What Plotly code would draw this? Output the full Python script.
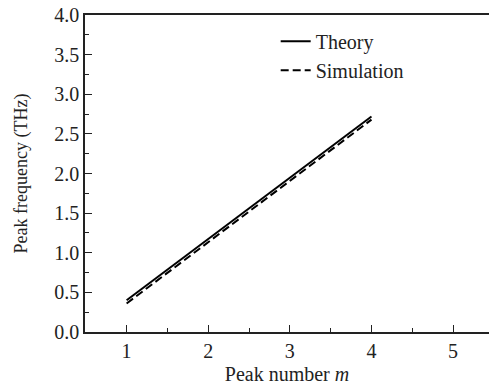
import plotly.graph_objects as go

peak_number = [1, 2, 3, 4]
theory = [0.40, 1.17, 1.95, 2.72]
simulation = [0.36, 1.13, 1.91, 2.68]

x_ticks = [1, 2, 3, 4, 5]
y_ticks = [0.0, 0.5, 1.0, 1.5, 2.0, 2.5, 3.0, 3.5, 4.0]
y_tick_labels = ["0.0", "0.5", "1.0", "1.5", "2.0", "2.5", "3.0", "3.5", "4.0"]

FONT = "Liberation Serif, Times New Roman, serif"

fig = go.Figure()
fig.add_trace(go.Scatter(x=peak_number, y=theory, mode="lines", name="Theory",
                         line=dict(color="black", width=2)))
fig.add_trace(go.Scatter(x=peak_number, y=simulation, mode="lines", name="Simulation",
                         line=dict(color="black", width=2, dash="8px,4px")))

fig.update_layout(
    width=489, height=385,
    margin=dict(l=85, r=0, t=15, b=53),
    plot_bgcolor="white", paper_bgcolor="white",
    font=dict(family=FONT, size=20, color="#222"),
    showlegend=True,
    legend=dict(x=0.472, y=0.979, xanchor="left", yanchor="top",
                bgcolor="rgba(0,0,0,0)", font=dict(size=20, family=FONT),
                itemwidth=30, tracegroupgap=0),
)
fig.update_xaxes(
    range=[0.49, 5.44], tickvals=x_ticks, ticktext=[str(v) for v in x_ticks],
    ticks="inside", ticklen=7, tickwidth=1.2, tickcolor="#222",
    minor=dict(dtick=0.5, tick0=0.5, ticks="inside", ticklen=4, tickwidth=1.2, tickcolor="#222"),
    showline=True, linecolor="#222", linewidth=1.5, mirror=True,
    showgrid=False, zeroline=False,
    title=dict(text="Peak number <i>m</i>", font=dict(size=20, family=FONT), standoff=8),
    tickfont=dict(size=20, family=FONT),
)
fig.update_yaxes(
    range=[0, 4.0], tickvals=y_ticks, ticktext=y_tick_labels,
    ticks="inside", ticklen=7, tickwidth=1.2, tickcolor="#222",
    minor=dict(dtick=0.25, tick0=0, ticks="inside", ticklen=4, tickwidth=1.2, tickcolor="#222"),
    showline=True, linecolor="#222", linewidth=1.5, mirror=False,
    showgrid=False, zeroline=False,
    title=dict(text="Peak frequency (THz)", font=dict(size=18, family=FONT), standoff=22),
    tickfont=dict(size=20, family=FONT),
)

fig.write_html("out.html")
